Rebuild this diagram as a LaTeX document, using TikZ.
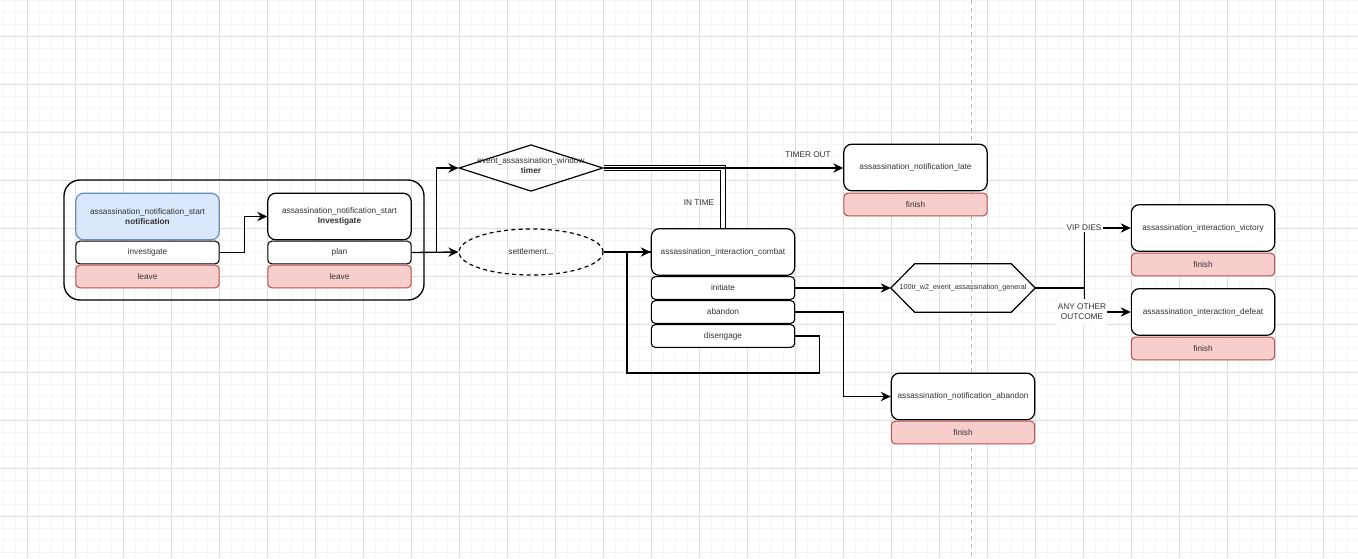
\documentclass[tikz,border=0pt]{standalone}
\usepackage{fontspec}
\setmainfont{Liberation Sans}
\usetikzlibrary{shapes.geometric, arrows.meta}

\definecolor{bluefill}{HTML}{DAE8FC}
\definecolor{blueline}{HTML}{6C8EBF}
\definecolor{redfill}{HTML}{F8CECC}
\definecolor{redline}{HTML}{B85450}
\definecolor{txt}{HTML}{333333}
\newcommand{\boxfont}{\fontsize{6.2pt}{7.5pt}\selectfont}
\newcommand{\hexfont}{\fontsize{5.4pt}{6.5pt}\selectfont}

\tikzset{
    state/.style={draw, line width=0.9pt, rounded corners=6pt, fill=white, text=txt, font=\boxfont, align=center, inner sep=1pt, minimum width=107.5pt, minimum height=35pt},
    row/.style={draw, line width=0.8pt, rounded corners=3pt, fill=white, text=txt, font=\boxfont, inner sep=0pt, minimum width=107.5pt, minimum height=17pt},
    endrow/.style={row, draw=redline, fill=redfill},
    edge/.style={line width=1pt, ->},
    lbl/.style={text=txt, font=\boxfont, inner sep=1pt}
}

\begin{document}
\begin{tikzpicture}[x=0.75pt, y=-0.75pt, >={Stealth[length=7.5pt, width=7pt]}]
    \path[use as bounding box, fill=white] (0,0) rectangle (1358,558);

    % background grid
    \foreach \gx in {3.3,15.3,...,1358} \draw[gray!7, line width=0.5pt] (\gx,0) -- (\gx,558);
    \foreach \gy in {0,12,...,558} \draw[gray!7, line width=0.5pt] (0,\gy) -- (1358,\gy);
    \foreach \gx in {27.3,75.3,...,1358} \draw[gray!25, line width=0.6pt] (\gx,0) -- (\gx,558);
    \foreach \gy in {36,84,...,558} \draw[gray!25, line width=0.6pt] (0,\gy) -- (1358,\gy);
    \draw[gray!55, dash pattern=on 3pt off 3pt, line width=0.5pt] (971,0) -- (971,558);

    % start group
    \node[draw, line width=1pt, rounded corners=12pt, minimum width=270pt, minimum height=90pt] (grp) at (244,240) {};
    \node[state, fill=bluefill, draw=blueline] (notif) at (147.5,216.5) {assassination\_notification\_start\\\textbf{notification}};
    \node[row] (inv) at (147.5,252.5) {investigate};
    \node[endrow] (leave1) at (147.5,276.5) {leave};
    \node[state] (invst) at (339.5,216.5) {assassination\_notification\_start\\\textbf{Investigate}};
    \node[row] (plan) at (339.5,252.5) {plan};
    \node[endrow] (leave2) at (339.5,276.5) {leave};

    % timer and settlement
    \node[diamond, draw, line width=0.9pt, minimum width=108pt, minimum height=35pt, inner sep=0pt] (timer) at (531,168) {};
    \node[lbl, align=center] (timertxt) at (531,165.5) {event\_assassination\_window\\\textbf{timer}};
    \node[ellipse, draw, line width=0.9pt, dash pattern=on 3pt off 2.5pt, minimum width=108pt, minimum height=34.5pt, text=txt, font=\boxfont] (settle) at (531,252) {settlement...};

    % combat
    \node[state] (combat) at (723,252) {assassination\_interaction\_combat};
    \node[row] (init) at (723,288) {initiate};
    \node[row] (aband) at (723,312) {abandon};
    \node[row] (diseng) at (723,336) {disengage};

    % outcomes
    \node[state] (late) at (915.5,167.5) {assassination\_notification\_late};
    \node[endrow] (fin1) at (915.5,204.5) {finish};
    \node[state] (abnote) at (963,396.5) {assassination\_notification\_abandon};
    \node[endrow] (fin2) at (963,432.5) {finish};
    \node[state] (vic) at (1203,228) {assassination\_interaction\_victory};
    \node[endrow] (fin3) at (1203,264.5) {finish};
    \node[state] (def) at (1203,312) {assassination\_interaction\_defeat};
    \node[endrow] (fin4) at (1203,348.5) {finish};

    % general event
    \node[minimum width=108pt, minimum height=36pt, inner sep=0pt, text=txt, font=\hexfont] (gen) at (963,288) {100tr\_w2\_event\_assassination\_general};
    \draw[line width=0.9pt] (gen.west) -- ([xshift=18pt]gen.north west) -- ([xshift=-18pt]gen.north east) -- (gen.east) -- ([xshift=-18pt]gen.south east) -- ([xshift=18pt]gen.south west) -- cycle;

    % connectors
    \draw[edge] (inv.east) -- ++(25,0) |- (invst.west);
    \draw[edge] (plan.east) -- ++(25,0) |- (timer.west);
    \draw[edge] (plan.east) -- (settle.west);
    \draw[line width=0.6pt, double, double distance=2.6pt] (timer.east) -| (combat.north);
    \draw[edge] (timer.east) -- (timer.east -| late.west);
    \node[lbl] (tout) at (808,155) {TIMER OUT};
    \node[lbl] (intime) at (699,203) {IN TIME};
    \draw[edge] (settle.east) -- (combat.west);
    \coordinate (back) at (627,373);
    \draw[line width=1pt] (diseng.east) -- ++(24,0) |- (back) |- (combat.west);
    \draw[edge] (init.east) -- (gen.west);
    \draw[edge] (aband.east) -- ++(48,0) |- (abnote.west);
    \draw[line width=1pt] (gen.east) -- ++(49,0) coordinate (split);
    \draw[edge] (split) |- (vic.west);
    \draw[edge] (split) |- (def.west);
    \node[lbl, fill=white] (vip) at (1084,228) {VIP DIES};
    \node[lbl, fill=white, align=center, inner ysep=4pt] (other) at (1082,312) {ANY OTHER\\OUTCOME};
\end{tikzpicture}
\end{document}
